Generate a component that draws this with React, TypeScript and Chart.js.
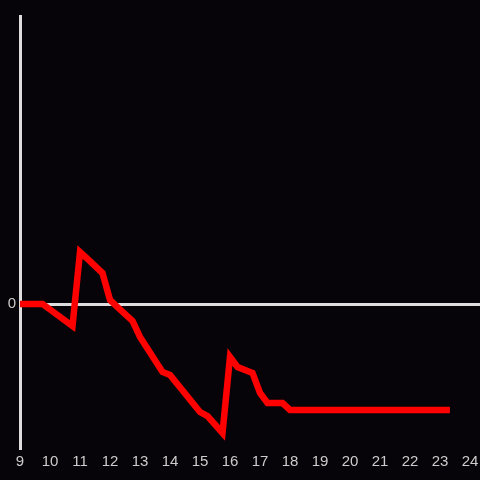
import React, { useEffect, useRef } from "react";
import { Chart, registerables } from "chart.js";

Chart.register(...registerables);

const hours = [9, 9.75, 10.75, 11, 11.25, 11.75, 12, 12.25, 12.75, 13, 13.75, 14, 15, 15.25, 15.75, 16, 16.25, 16.75, 17, 17.25, 17.75, 18, 23.33];
const values = [0, 0, -0.153, 0.361, 0.313, 0.215, 0.028, -0.021, -0.118, -0.229, -0.472, -0.493, -0.75, -0.778, -0.896, -0.368, -0.4375, -0.479, -0.618, -0.6875, -0.6875, -0.736, -0.736];
const yTickValues = [0];

export default function App() {
  const ref = useRef<HTMLCanvasElement | null>(null);
  useEffect(() => {
    document.body.style.margin = "0";
    document.body.style.background = "#060408";
    const canvas = ref.current!;
    const bg = {
      id: "bg",
      beforeDraw(chart: any) {
        const c = chart.ctx;
        c.save();
        c.fillStyle = "#060408";
        c.fillRect(0, 0, chart.width, chart.height);
        c.restore();
      },
    };
    const chart = new Chart(canvas, {
      type: "line",
      data: {
        datasets: [
          {
            data: hours.map((h, i) => ({ x: h, y: values[i] })),
            borderColor: "#ff0000",
            borderWidth: 6.5,
            pointRadius: 0,
            tension: 0,
            borderCapStyle: "butt",
            borderJoinStyle: "miter",
          },
        ],
      },
      options: {
        animation: false,
        responsive: false,
        maintainAspectRatio: false,
        layout: { padding: { top: 16, right: 0, left: 0, bottom: 0 } },
        plugins: { legend: { display: false }, tooltip: { enabled: false } },
        scales: {
          x: {
            type: "linear",
            min: 9,
            max: 24.333,
            afterBuildTicks: (s: any) => {
              const t = [];
              for (let v = 9; v <= 24; v++) t.push({ value: v });
              s.ticks = t;
            },
            afterFit: (s: any) => {
              s.height = 32;
              s.paddingLeft = 0;
              s.paddingRight = 0;
            },
            grid: { display: false, drawTicks: false },
            border: { display: false },
            ticks: {
              color: "#cccccc",
              padding: 5,
              maxRotation: 0,
              autoSkip: false,
              font: { family: "'Liberation Sans', Arial, sans-serif", size: 15 },
            },
          },
          y: {
            min: -1,
            max: 2,
            afterBuildTicks: (s: any) => {
              s.ticks = yTickValues.map((v) => ({ value: v }));
            },
            afterFit: (s: any) => {
              s.width = 20;
            },
            grid: { color: "#dddddd", lineWidth: 3, drawTicks: false },
            border: { display: true, color: "#dddddd", width: 3 },
            ticks: {
              color: "#cccccc",
              padding: 4,
              font: { family: "'Liberation Sans', Arial, sans-serif", size: 15 },
            },
          },
        },
      },
      plugins: [bg],
    } as any);
    return () => chart.destroy();
  }, []);
  return (
    <div style={{ position: "fixed", left: 0, top: 0, width: 480, height: 480 }}>
      <canvas ref={ref} width={480} height={480} style={{ width: 480, height: 480 }} />
    </div>
  );
}
